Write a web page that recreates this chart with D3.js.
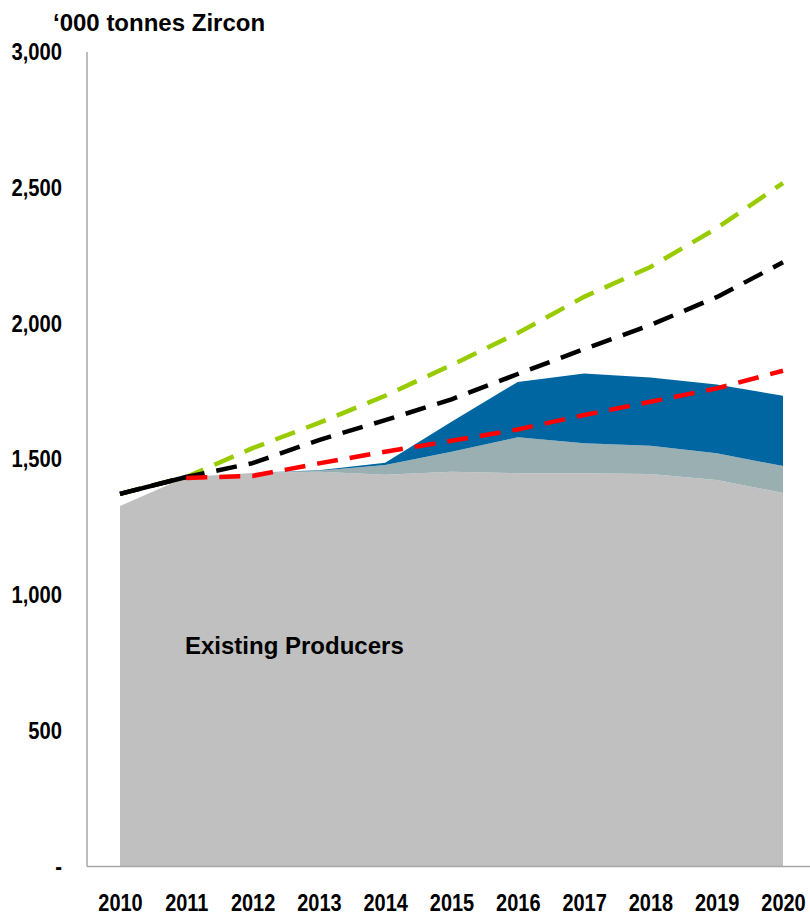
<!DOCTYPE html>
<html>
<head>
<meta charset="utf-8">
<script src="https://cdn.jsdelivr.net/npm/d3@7/dist/d3.min.js"></script>
<style>
    body { margin: 0; background: #fff; }
    svg text { font-family: "Liberation Sans", Arial, sans-serif; font-weight: bold; fill: #000; }
    .tick text { font-size: 23.5px; }
</style>
</head>
<body>
<div id="chart"></div>
<script>
// supply, '000 t zircon
var years = [2010, 2011, 2012, 2013, 2014, 2015, 2016, 2017, 2018, 2019, 2020];
var existingProducers = [1325, 1432, 1447, 1451, 1440, 1451, 1446, 1446, 1443, 1421, 1373];
var committedProjects = [0, 0, 0, 4, 36, 74, 132, 110, 104, 98, 99];
var probableProjects = [0, 0, 0, 2, 8, 110, 204, 257, 251, 253, 259];

// demand scenarios
var demandActual = [1370, 1432];
var demandHigh = [1370, 1432, 1538, 1631, 1731, 1844, 1962, 2095, 2205, 2348, 2514];
var demandBase = [1370, 1432, 1483, 1568, 1641, 1718, 1811, 1903, 1991, 2094, 2222];
var demandLow = [null, 1428, 1436, 1482, 1525, 1565, 1607, 1660, 1709, 1758, 1823];

var yTicks = [0, 500, 1000, 1500, 2000, 2500, 3000];

var width = 810, height = 915;

var svg = d3.select("#chart").append("svg")
        .attr("width", width)
        .attr("height", height);

var x = d3.scaleLinear().domain([2010, 2020]).range([120, 783]);
var y = d3.scaleLinear().domain([0, 3000]).range([866, 51]);

// stack the supply layers
var rows = years.map(function(yr, i) {
    return {year: yr, existing: existingProducers[i], committed: committedProjects[i], probable: probableProjects[i]};
});
var stack = d3.stack().keys(["existing", "committed", "probable"]);
var layers = stack(rows);
var layerColors = {existing: "#c0c0c0", committed: "#9aafb2", probable: "#0066a1"};

var area = d3.area()
        .x(function(d) { return x(d.data.year); })
        .y0(function(d) { return y(d[0]); })
        .y1(function(d) { return y(d[1]); });

svg.selectAll("path.layer")
        .data(layers)
        .enter().append("path")
        .attr("class", "layer")
        .attr("fill", function(d) { return layerColors[d.key]; })
        .attr("d", area);

// demand lines
var line = d3.line()
        .defined(function(d) { return d !== null; })
        .x(function(d, i) { return x(years[i]); })
        .y(function(d) { return y(d); });

var demand = [
    {values: demandHigh, color: "#99cc00", dash: "21,12"},
    {values: demandBase, color: "#000000", dash: "21,12"},
    {values: demandActual, color: "#000000", dash: null},
    {values: demandLow, color: "#ff0000", dash: "21,12"}
];

svg.selectAll("path.demand")
        .data(demand)
        .enter().append("path")
        .attr("class", "demand")
        .attr("fill", "none")
        .attr("stroke", function(d) { return d.color; })
        .attr("stroke-width", 4.5)
        .attr("stroke-dasharray", function(d) { return d.dash; })
        .attr("d", function(d) { return line(d.values); });

// axes
var yAxis = d3.axisLeft(y)
        .tickValues(yTicks)
        .tickSize(0)
        .tickPadding(0)
        .tickFormat(function(d) { return d === 0 ? "-" : d3.format(",")(d); });

var gy = svg.append("g")
        .attr("transform", "translate(62,0)")
        .call(yAxis);
gy.select(".domain").remove();
gy.selectAll(".tick text")
        .attr("dy", "0.36em")
        .attr("transform", "scale(0.86,1)");

var xAxis = d3.axisBottom(x)
        .tickValues(years)
        .tickSize(0)
        .tickPadding(0)
        .tickFormat(d3.format("d"));

var gx = svg.append("g")
        .attr("transform", "translate(0,894)")
        .call(xAxis);
gx.select(".domain").remove();
gx.selectAll(".tick text")
        .attr("dy", "0.71em")
        .attr("transform", "scale(0.85,1)");

svg.append("line")
        .attr("x1", 87).attr("x2", 87)
        .attr("y1", 52).attr("y2", 866.5)
        .attr("stroke", "#a6a6a6")
        .attr("stroke-width", 1.5);
svg.append("line")
        .attr("x1", 87).attr("x2", 810)
        .attr("y1", 866.5).attr("y2", 866.5)
        .attr("stroke", "#a6a6a6")
        .attr("stroke-width", 1.5);

// labels
svg.append("text")
        .attr("x", 53)
        .attr("y", 31)
        .style("font-size", "24px")
        .text("\u2018000 tonnes Zircon");

svg.append("text")
        .attr("x", 185)
        .attr("y", 654)
        .style("font-size", "24px")
        .text("Existing Producers");
</script>
</body>
</html>
